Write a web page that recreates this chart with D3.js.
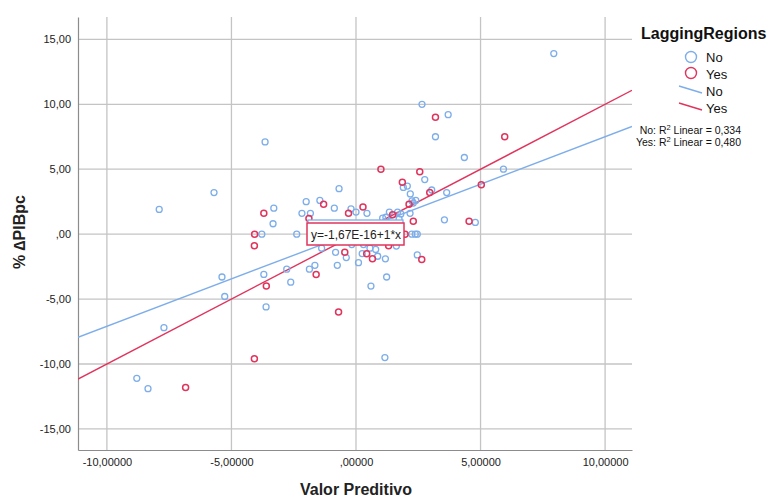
<!DOCTYPE html>
<html>
<head>
<meta charset="utf-8">
<script src="https://cdn.jsdelivr.net/npm/d3@7"></script>
<style>
  body { margin: 0; background: #fff; }
  text { font-family: "Liberation Sans", Arial, sans-serif; }
</style>
</head>
<body>
<div id="chart"></div>
<script>
// tick values and their SPSS-style labels
const xTicks = [-10, -5, 0, 5, 10];
const xTickLabels = ["-10,00000", "-5,00000", ",00000", "5,00000", "10,00000"];
const yTicks = [-15, -10, -5, 0, 5, 10, 15];
const yTickLabels = ["-15,00", "-10,00", "-5,00", ",00", "5,00", "10,00", "15,00"];

// LaggingRegions = No
const noX = [-3.65, -5.7, -7.9, -3.3, -3.33, -2.0, -1.45, -0.68, -2.17, -1.83, -0.87, -0.2, 0.0,
  7.94, 2.65, 3.7, 3.19, 4.35, 5.92, 2.76, 2.06, 1.9, 3.04, 3.64, 2.18, 2.4, 2.25, 2.3, 0.44, 1.34,
  1.67, 1.8, 2.17, 1.07, 1.2, 1.73, 3.55, 4.79, -3.78, -2.38, -1.38, -0.82, -0.39, 0.1, -0.75,
  -5.38, -3.7, -2.78, -2.62, -1.87, -1.65, -5.27, -3.61, -7.71, -8.8, -8.35, 0.6, 1.23, 1.16,
  0.25, 0.87, 1.18, 2.46, 0.79, 1.62, -0.17, 0.3, 2.24, 2.38, 2.46, 0.56];
const noY = [7.1, 3.2, 1.9, 2.0, 0.8, 2.5, 2.6, 3.5, 1.6, 1.6, 2.0, 1.95, 1.7,
  13.9, 10.0, 9.2, 7.5, 5.9, 5.0, 4.2, 3.7, 3.6, 3.4, 3.2, 3.1, 2.6, 2.56, 2.4, 1.6, 1.7,
  1.7, 1.56, 1.6, 1.23, 1.3, 1.15, 1.1, 0.9, 0.0, 0.0, -1.08, -1.4, -1.8, -2.2, -2.4,
  -3.3, -3.1, -2.7, -3.7, -2.7, -2.4, -4.8, -5.6, -7.2, -11.1, -11.9, -4.0, -3.3, -9.5,
  -1.5, -1.7, -1.9, -1.6, -1.18, -0.92, -0.8, -0.8, 0.0, 0.0, 0.0, -1.08];

// LaggingRegions = Yes
const yesX = [-3.7, -1.3, -1.89, -0.3, 3.19, 5.97, 1.0, 2.56, 1.86, 2.96, 5.03, 2.13, 0.28, 1.47,
  2.3, 4.54, -4.07, -4.08, -0.45, -3.6, -1.6, -0.7, -4.08, -6.84, 0.66, 0.43, 2.64, 1.31, 1.97];
const yesY = [1.6, 2.3, 1.2, 1.6, 9.0, 7.5, 5.0, 4.8, 4.0, 3.2, 3.8, 2.3, 2.1, 1.5,
  1.0, 1.0, 0.0, -0.9, -1.4, -4.0, -3.1, -6.0, -9.6, -11.8, -1.9, -1.5, -1.95, -0.9, 0.0];

// linear fits per group
const noFit = {intercept: 0.2, slope: 0.73};
const yesFit = {intercept: 0.0, slope: 1.0};

const blue = "#7eaeea", red = "#e0345c";
const W = 768, H = 498;
const pLeft = 78, pRight = 632, pTop = 17, pBottom = 450;

const x = d3.scaleLinear().domain([-11.16, 11.08]).range([pLeft, pRight]);
const y = d3.scaleLinear().domain([-16.62, 16.72]).range([pBottom, pTop]);

const svg = d3.select("#chart").append("svg")
    .attr("width", W)
    .attr("height", H);

svg.append("rect").attr("width", W).attr("height", H).attr("fill", "#fff");

// grid
svg.append("g").selectAll("line").data(xTicks).join("line")
    .attr("x1", d => x(d)).attr("x2", d => x(d))
    .attr("y1", pTop).attr("y2", pBottom)
    .attr("stroke", "#c4c4c4").attr("stroke-width", 1.3);
svg.append("g").selectAll("line").data(yTicks).join("line")
    .attr("x1", pLeft).attr("x2", pRight)
    .attr("y1", d => y(d)).attr("y2", d => y(d))
    .attr("stroke", "#c4c4c4").attr("stroke-width", 1.3);

// axes
const xAxis = svg.append("g")
    .attr("transform", "translate(0," + pBottom + ")")
    .call(d3.axisBottom(x).tickValues(xTicks).tickSize(0).tickPadding(8)
      .tickFormat((d, i) => xTickLabels[i]));
const yAxis = svg.append("g")
    .attr("transform", "translate(" + pLeft + ",0)")
    .call(d3.axisLeft(y).tickValues(yTicks).tickSize(0).tickPadding(7)
      .tickFormat((d, i) => yTickLabels[i]));
[xAxis, yAxis].forEach(a => {
  a.select(".domain").attr("stroke", "#8c8c8c").attr("stroke-width", 1.2);
  a.selectAll("text").attr("font-family", "Liberation Sans, Arial, sans-serif")
    .attr("font-size", 11).attr("fill", "#222");
});

// fit lines
svg.append("clipPath").attr("id", "plotclip")
  .append("rect").attr("x", pLeft).attr("y", pTop)
  .attr("width", pRight - pLeft).attr("height", pBottom - pTop);
const xs = x.domain();
[[noFit, blue], [yesFit, red]].forEach(([f, c]) => {
  svg.append("path")
      .datum(xs.map(v => [v, f.intercept + f.slope * v]))
      .attr("clip-path", "url(#plotclip)")
      .attr("d", d3.line().x(d => x(d[0])).y(d => y(d[1])))
      .attr("fill", "none").attr("stroke", c).attr("stroke-width", 1.4);
});

// points
svg.append("g").selectAll("circle").data(noX.map((v, i) => [v, noY[i]])).join("circle")
    .attr("cx", d => x(d[0])).attr("cy", d => y(d[1])).attr("r", 3)
    .attr("fill", "none").attr("stroke", blue).attr("stroke-width", 1.3);
svg.append("g").selectAll("circle").data(yesX.map((v, i) => [v, yesY[i]])).join("circle")
    .attr("cx", d => x(d[0])).attr("cy", d => y(d[1])).attr("r", 3)
    .attr("fill", "none").attr("stroke", red).attr("stroke-width", 1.5);

// equation label of the total fit
svg.append("rect").attr("x", 308).attr("y", 220).attr("width", 95).attr("height", 22)
    .attr("fill", "#fff").attr("stroke", blue).attr("stroke-width", 1.3);
svg.append("rect").attr("x", 307).attr("y", 223).attr("width", 97).attr("height", 22)
    .attr("fill", "#fff").attr("stroke", red).attr("stroke-width", 1.5);
svg.append("text").attr("x", 311).attr("y", 239)
    .attr("font-size", 12).attr("fill", "#222").text("y=-1,67E-16+1*x");

// axis titles
svg.append("text").attr("x", 356).attr("y", 495)
    .attr("text-anchor", "middle").attr("font-size", 16).attr("font-weight", "bold")
    .attr("fill", "#222").text("Valor Preditivo");
svg.append("text")
    .attr("transform", "translate(25,232) rotate(-90)")
    .attr("text-anchor", "middle").attr("font-size", 16).attr("font-weight", "bold")
    .attr("fill", "#222").text("% \u2206PIBpc");

// legend
const lg = svg.append("g");
lg.append("text").attr("x", 641).attr("y", 39).attr("font-size", 16).attr("font-weight", "bold")
    .attr("fill", "#111").text("LaggingRegions");
lg.append("circle").attr("cx", 691).attr("cy", 57).attr("r", 5.5)
    .attr("fill", "none").attr("stroke", blue).attr("stroke-width", 1.4);
lg.append("circle").attr("cx", 691).attr("cy", 73).attr("r", 5.5)
    .attr("fill", "none").attr("stroke", red).attr("stroke-width", 1.4);
lg.append("line").attr("x1", 679).attr("y1", 86).attr("x2", 702).attr("y2", 93)
    .attr("stroke", blue).attr("stroke-width", 1.4);
lg.append("line").attr("x1", 679).attr("y1", 103).attr("x2", 702).attr("y2", 110)
    .attr("stroke", red).attr("stroke-width", 1.4);
[["No", 62], ["Yes", 79], ["No", 96], ["Yes", 113]].forEach(([t, yy]) => {
  lg.append("text").attr("x", 706).attr("y", yy).attr("font-size", 13).attr("fill", "#111").text(t);
});
const r2 = lg.append("text").attr("x", 741).attr("y", 134).attr("text-anchor", "end")
    .attr("font-size", 10.5).attr("fill", "#111");
r2.append("tspan").text("No: R");
r2.append("tspan").attr("dy", -4).attr("font-size", 7.5).text("2");
r2.append("tspan").attr("dy", 4).text(" Linear = 0,334");
const r2b = lg.append("text").attr("x", 741).attr("y", 146).attr("text-anchor", "end")
    .attr("font-size", 10.5).attr("fill", "#111");
r2b.append("tspan").text("Yes: R");
r2b.append("tspan").attr("dy", -4).attr("font-size", 7.5).text("2");
r2b.append("tspan").attr("dy", 4).text(" Linear = 0,480");
</script>
</body>
</html>
